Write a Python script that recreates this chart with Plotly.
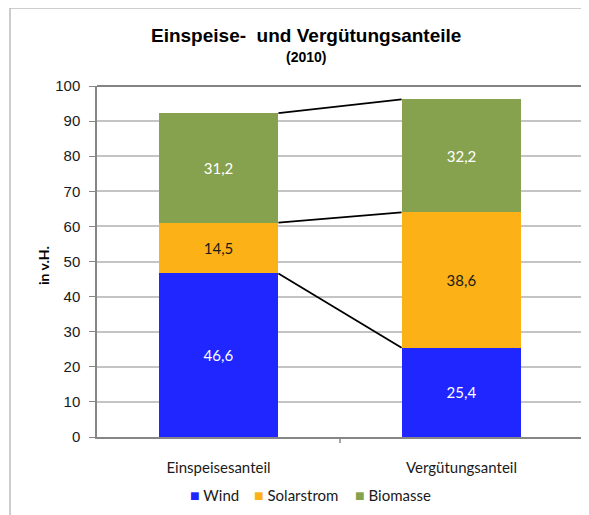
import plotly.graph_objects as go

categories = ["Einspeisesanteil", "Vergütungsanteil"]
wind = [46.6, 25.4]
solar = [14.5, 38.6]
biomasse = [31.2, 32.2]
series_names = ["Wind", "Solarstrom", "Biomasse"]
y_ticks = [0, 10, 20, 30, 40, 50, 60, 70, 80, 90, 100]

colors = ["#1F26FF", "#FCB117", "#87A24F"]
text_colors = ["white", "#1a1a1a", "white"]
BAR_W = 0.493
xpos = list(range(len(categories)))

# figure pixel geometry (page body has an 8px margin)
W, H = 581, 507
L, T, R, B = 89, 78, 6, 78
PW, PH = W - L - R, H - T - B


def px(x):
    return (x - 8 - L) / PW


def py(y):
    return (H - B - (y - 8)) / PH


fig = go.Figure()
for name, vals, col, tcol in zip(series_names, [wind, solar, biomasse], colors, text_colors):
    fig.add_trace(go.Bar(
        x=xpos, y=vals, name=name, width=BAR_W,
        marker=dict(color=col, line=dict(width=0)),
        texttemplate="%{y:.1f}", textposition="inside", insidetextanchor="middle",
        textfont=dict(family="Lato, Open Sans, sans-serif", size=15, color=tcol),
        constraintext="none", showlegend=False,
    ))

# connector lines between stacked segment tops
cum = [0, 0]
for vals in [wind, solar, biomasse]:
    cum = [c + v for c, v in zip(cum, vals)]
    fig.add_trace(go.Scatter(
        x=[xpos[0] + BAR_W / 2, xpos[1] - BAR_W / 2], y=cum,
        mode="lines", line=dict(color="black", width=1.8),
        showlegend=False, hoverinfo="skip",
    ))

# legend drawn as annotations (square + label)
legend_x = [188, 252, 353]
legend_ann = []
for name, col, lx in zip(series_names, colors, legend_x):
    legend_ann.append(dict(
        text=f"<span style='color:{col};font-size:16px'>■</span><span style='font-size:15px'> {name}</span>",
        xref="paper", yref="paper", x=px(lx), y=py(494), xanchor="left", yanchor="middle",
        showarrow=False, font=dict(family="Lato, Open Sans, sans-serif", size=15, color="#1a1a1a"),
    ))

fig.update_layout(
    width=W, height=H,
    margin=dict(l=L, r=R, t=T, b=B),
    barmode="stack",
    separators=",.",
    plot_bgcolor="white", paper_bgcolor="white",
    showlegend=False,
    xaxis=dict(range=[-0.5, 1.5], tickvals=xpos, ticktext=categories,
               showgrid=False, zeroline=False, showline=True, linecolor="#868686", linewidth=1.5,
               mirror=False, ticks="", ticklabelstandoff=16,
               tickfont=dict(family="Lato, Open Sans, sans-serif", size=15, color="#1a1a1a")),
    yaxis=dict(range=[0, 100], tickvals=y_ticks, showgrid=True, gridcolor="#C4C4C4", gridwidth=1.5,
               zeroline=False, showline=True, linecolor="#868686", linewidth=1.5, mirror=False,
               ticks="outside", ticklen=6, tickcolor="#868686", ticklabelstandoff=6,
               tickfont=dict(family="Liberation Sans, Arial, sans-serif", size=15, color="#1a1a1a")),
    annotations=[
        dict(text="<b>Einspeise-  und Vergütungsanteile</b>", xref="paper", yref="paper",
             x=px(306), y=py(36), xanchor="center", yanchor="middle", showarrow=False,
             font=dict(family="Liberation Sans, Arial, sans-serif", size=19, color="black")),
        dict(text="<b>(2010)</b>", xref="paper", yref="paper",
             x=px(306), y=py(57), xanchor="center", yanchor="middle", showarrow=False,
             font=dict(family="Liberation Sans, Arial, sans-serif", size=14, color="black")),
        dict(text="<b>in v.H.</b>", xref="paper", yref="paper", textangle=-90,
             x=px(43), y=py(266), xanchor="center", yanchor="middle", showarrow=False,
             font=dict(family="Lato, Open Sans, sans-serif", size=14, color="black")),
    ] + legend_ann,
    shapes=[
        dict(type="rect", xref="paper", yref="paper", x0=px(10), x1=px(600), y0=py(530), y1=py(8),
             line=dict(color="#BDBDBD", width=1.5), fillcolor="rgba(0,0,0,0)", layer="below"),
        dict(type="line", xref="x", yref="paper", x0=0.5, x1=0.5, y0=0, y1=-6 / PH,
             line=dict(color="#868686", width=1.5)),
        dict(type="line", xref="paper", yref="paper", x0=0, x1=1, y0=1, y1=1,
             line=dict(color="#5A5A5A", width=1.5)),
        dict(type="line", xref="paper", yref="paper", x0=1, x1=1, y0=0, y1=1,
             line=dict(color="#5A5A5A", width=1.5)),
    ],
)

fig.write_html("out.html")
